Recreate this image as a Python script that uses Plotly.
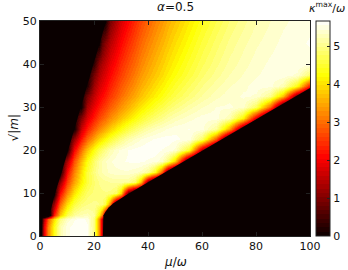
import plotly.graph_objects as go

# grid (mu/omega columns, sqrt|m| rows, kappa_max/omega values)
mu_vals = [0, 0.5, 1.5, 3, 5, 7.5, 10, 12.5, 15, 17.5, 20, 22, 23, 24, 26, 28, 30, 32.5, 35,
           37.5, 40, 42.5, 45, 47.5, 50, 55, 60, 65, 70, 75, 80, 85, 90, 95, 100]
sqrt_m_vals = [0, 2, 4, 5, 7.5, 10, 12.5, 15, 17.5, 20, 22.5, 25, 27.5, 30, 32.5, 35, 37.5, 40, 45, 50]

kappa_rows = [
    [0, 0, 1.88, 3.19, 4.33, 5.19, 5.52, 5.61, 5.66, 5.57, 4.94, 3.19, 1.53, -0.2] + [0] * 21,
    [0, 0, 1.88, 3.19, 4.33, 5.19, 5.52, 5.61, 5.66, 5.57, 4.94, 3.19, 1.53, -0.2] + [0] * 21,
    [0, 0, 1.41, 2.83, 3.98, 4.95, 5.35, 5.53, 5.58, 5.52, 4.93, 3.19, 1.53, -0.2] + [0] * 21,
    [0, 0, -1.5, -1, 2.25, 3.74, 4.65, 5.09, 5.23, 5.26, 5.1, 4.12, 3.07, 1.25, -0.5, -0.5] + [0] * 19,
    [0, 0, 0, 0, 1.2, 2.94, 3.95, 4.58, 4.87, 4.98, 5.02, 4.98, 4.87, 4.61, 3.18, 0.3, -0.5, -0.5,
     -0.5] + [0] * 16,
    [0, 0, 0, 0, 0, 2.08, 3.2, 4.0, 4.52, 4.79, 4.91, 4.95, 4.96, 4.97, 4.95, 4.78, 3.92, 0.8,
     -0.5, -0.5, -0.5] + [0] * 14,
    [0, 0, 0, 0, 0, 1.13, 2.57, 3.45, 4.1, 4.57, 4.85, 4.99, 5.03, 5.05, 5.1, 5.11, 5.1, 5.08,
     4.79, 3.62, 0.8, -0.5, -0.5, -0.5] + [0] * 11,
    [0, 0, 0, 0, 0, 0, 2.09, 3.16, 3.93, 4.53, 4.94, 5.16, 5.22, 5.28, 5.35, 5.39, 5.41, 5.41,
     5.36, 5.28, 5.05, 4.32, 2.8, 0.4, -0.5, -0.5] + [0] * 9,
    [0, 0, 0, 0, 0, 0, 1.34, 2.72, 3.61, 4.28, 4.81, 5.1, 5.21, 5.3, 5.42, 5.49, 5.53, 5.56,
     5.58, 5.57, 5.52, 5.5, 5.34, 4.84, 3.84, 0.1, -0.5, -0.5] + [0] * 7,
    [0, 0, 0, 0, 0, 0, 0, 2.03, 3.0, 3.72, 4.31, 4.69, 4.85, 4.99, 5.21, 5.38, 5.47, 5.55,
     5.6, 5.62, 5.64, 5.6, 5.54, 5.51, 5.4, 4.41, 1.34, -0.5, -0.5] + [0] * 6,
    [0, 0, 0, 0, 0, 0, 0, 1.14, 2.21, 2.91, 3.47, 3.87, 4.04, 4.2, 4.5, 4.77, 4.98, 5.2,
     5.34, 5.44, 5.52, 5.56, 5.6, 5.6, 5.57, 5.5, 4.79, 2.79, -0.2, -0.5] + [0] * 5,
    [0, 0, 0, 0, 0, 0, 0, 0, 1.58, 2.29, 2.83, 3.19, 3.36, 3.52, 3.81, 4.09, 4.33, 4.61,
     4.84, 5.03, 5.19, 5.3, 5.39, 5.46, 5.52, 5.55, 5.47, 5.06, 3.48, 0.55, -0.5, -0.5] + [0] * 3,
    [0, 0, 0, 0, 0, 0, 0, 0, 0.98, 1.76, 2.3, 2.65, 2.81, 2.95, 3.24, 3.49, 3.72, 4.0, 4.25,
     4.47, 4.68, 4.86, 5.0, 5.13, 5.25, 5.39, 5.49, 5.48, 5.24, 4.18, 1.78, -0.5, -0.5, 0, 0],
    [0, 0, 0, 0, 0, 0, 0, 0, 0, 1.33, 1.9, 2.26, 2.42, 2.57, 2.84, 3.09, 3.32, 3.58, 3.83,
     4.05, 4.26, 4.46, 4.64, 4.79, 4.93, 5.16, 5.32, 5.44, 5.46, 5.36, 4.73, 2.88, -0.1, -0.5, -0.5],
    [0, 0, 0, 0, 0, 0, 0, 0, 0, 0.89, 1.56, 1.93, 2.1, 2.25, 2.52, 2.77, 3.0, 3.26, 3.5,
     3.72, 3.93, 4.13, 4.31, 4.48, 4.64, 4.9, 5.11, 5.28, 5.39, 5.45, 5.42, 5.02, 3.68, 0.8, -0.5],
    [0, 0, 0, 0, 0, 0, 0, 0, 0, 0.18, 1.26, 1.69, 1.86, 2.02, 2.31, 2.57, 2.8, 3.06, 3.31,
     3.54, 3.74, 3.94, 4.13, 4.3, 4.47, 4.75, 4.98, 5.17, 5.31, 5.41, 5.48, 5.47, 5.24, 4.3, 2.12],
    [0, 0, 0, 0, 0, 0, 0, 0, 0, 0, 0.91, 1.42, 1.62, 1.79, 2.09, 2.36, 2.6, 2.87, 3.12,
     3.35, 3.56, 3.75, 3.94, 4.12, 4.29, 4.58, 4.84, 5.04, 5.21, 5.33, 5.42, 5.49, 5.5, 5.4, 4.8],
    [0, 0, 0, 0, 0, 0, 0, 0, 0, 0, 0.34, 1.13, 1.36, 1.56, 1.89, 2.18, 2.43, 2.71, 2.96,
     3.2, 3.42, 3.62, 3.81, 3.99, 4.16, 4.47, 4.73, 4.95, 5.13, 5.27, 5.38, 5.46, 5.51, 5.53, 5.49],
    [0, 0, 0, 0, 0, 0, 0, 0, 0, 0, 0, 0, 0.69, 1.02, 1.47, 1.81, 2.1, 2.41, 2.69,
     2.94, 3.17, 3.38, 3.58, 3.76, 3.95, 4.27, 4.56, 4.81, 5.01, 5.17, 5.3, 5.39, 5.47, 5.52, 5.56],
    [0, 0, 0, 0, 0, 0, 0, 0, 0, 0, 0, 0, 0, 0, 0.91, 1.38, 1.74, 2.09, 2.4,
     2.67, 2.91, 3.14, 3.35, 3.55, 3.72, 4.07, 4.37, 4.64, 4.87, 5.05, 5.2, 5.32, 5.41, 5.47, 5.52],
]

# edges of the stable (black) regions
lower_edge_mu = [23.3, 23.3, 23.5, 24.2, 25.4, 27.2, 29.5, 32.1, 40.0, 53.7, 67.4, 81.1, 94.8, 100]
lower_edge_y = [0, 4.0, 4.8, 5.6, 6.6, 7.6, 8.6, 9.6, 12.5, 17.5, 22.5, 27.5, 32.5, 34.4]
upper_edge_mu = [0.7, 0.7, 0.9, 1.4, 3.4, 3.8, 4.6, 5.6, 8.1, 10.4, 12.8, 15.1, 17.5, 19.8, 22.2, 24.5]
upper_edge_y = [0, 3.9, 4.4, 4.6, 4.8, 5.5, 7.5, 10, 15, 20, 25, 30, 35, 40, 45, 50]

kappa_max = 5.66
x_ticks = [0, 20, 40, 60, 80, 100]
y_ticks = [0, 10, 20, 30, 40, 50]
cb_ticks = [0, 1, 2, 3, 4, 5]

BLACK = "rgb(10,0,0)"


def hot_rgb(t):
    r = min(1.0, 0.0416 + t * (1 - 0.0416) / 0.365)
    g = min(1.0, max(0.0, (t - 0.365) / 0.381))
    b = min(1.0, max(0.0, (t - 0.746) / 0.254))
    return "rgb(%d,%d,%d)" % (round(r * 255), round(g * 255), round(b * 255))


# banded 'hot' colour map, like a filled-contour plot with 50 levels
n_bands = 50
hot_banded = []
for k in range(n_bands):
    c = hot_rgb((k + 0.5) / n_bands)
    hot_banded.append([k / n_bands, c])
    hot_banded.append([(k + 1) / n_bands, c])

FONT = "DejaVu Sans"

fig = go.Figure()
fig.add_trace(go.Heatmap(
    x=mu_vals, y=sqrt_m_vals, z=kappa_rows,
    colorscale=hot_banded, zmin=0, zmax=kappa_max, zauto=False,
    zsmooth="best",
    colorbar=dict(
        x=1.0222, xanchor="left", xpad=0, ypad=0,
        y=0.5, yanchor="middle", len=1, lenmode="fraction",
        thickness=14, thicknessmode="pixels",
        outlinewidth=1, outlinecolor="#222",
        tickmode="array", tickvals=cb_ticks, ticks="inside", ticklen=3,
        tickcolor="#222", tickfont=dict(family=FONT, size=11, color="#111"),
    ),
    hoverinfo="skip",
))
# black stable region below / right of the instability band
fig.add_trace(go.Scatter(
    x=lower_edge_mu + [100, 100], y=lower_edge_y + [0, 0],
    mode="lines", fill="toself", fillcolor=BLACK, line=dict(width=0, color=BLACK),
    hoverinfo="skip", showlegend=False,
))
# black stable region above / left of the instability band
fig.add_trace(go.Scatter(
    x=upper_edge_mu + [0, 0], y=upper_edge_y + [50, 0],
    mode="lines", fill="toself", fillcolor=BLACK, line=dict(width=0, color=BLACK),
    hoverinfo="skip", showlegend=False,
))

axis_common = dict(
    showline=True, linecolor="#222", linewidth=1, mirror="ticks",
    ticks="inside", ticklen=4, tickcolor="#222", showgrid=False, zeroline=False,
    tickfont=dict(family=FONT, size=11, color="#111"), layer="above traces",
)
fig.update_xaxes(range=[0, 100], tickmode="array", tickvals=x_ticks, **axis_common)
fig.update_yaxes(range=[0, 50], tickmode="array", tickvals=y_ticks, **axis_common)

fig.update_layout(
    width=348, height=270,
    margin=dict(l=40, r=38, t=21, b=34, autoexpand=False),
    paper_bgcolor="white", plot_bgcolor="white",
    font=dict(family=FONT, size=11, color="#111"),
    showlegend=False,
    annotations=[
        dict(text="<i>α</i>=0.5", x=0.5, y=1.065, xref="paper", yref="paper",
             xanchor="center", yanchor="middle", showarrow=False,
             font=dict(family=FONT, size=12, color="#111")),
        dict(text="<i>κ</i><sup>max</sup>/<i>ω</i>", x=1.063, y=1.065, xref="paper", yref="paper",
             xanchor="center", yanchor="middle", showarrow=False,
             font=dict(family=FONT, size=11, color="#111")),
        dict(text="<i>μ</i>/<i>ω</i>", x=0.5, y=-0.121, xref="paper", yref="paper",
             xanchor="center", yanchor="middle", showarrow=False,
             font=dict(family=FONT, size=12, color="#111")),
        dict(text="√|<i>m</i>|", x=-0.1, y=0.5, xref="paper", yref="paper",
             xanchor="center", yanchor="middle", showarrow=False, textangle=-90,
             font=dict(family=FONT, size=12, color="#111")),
    ],
)

fig.write_html("out.html", config={"displayModeBar": False},
               post_script="document.body.style.margin='0px';document.body.style.padding='0px';")
